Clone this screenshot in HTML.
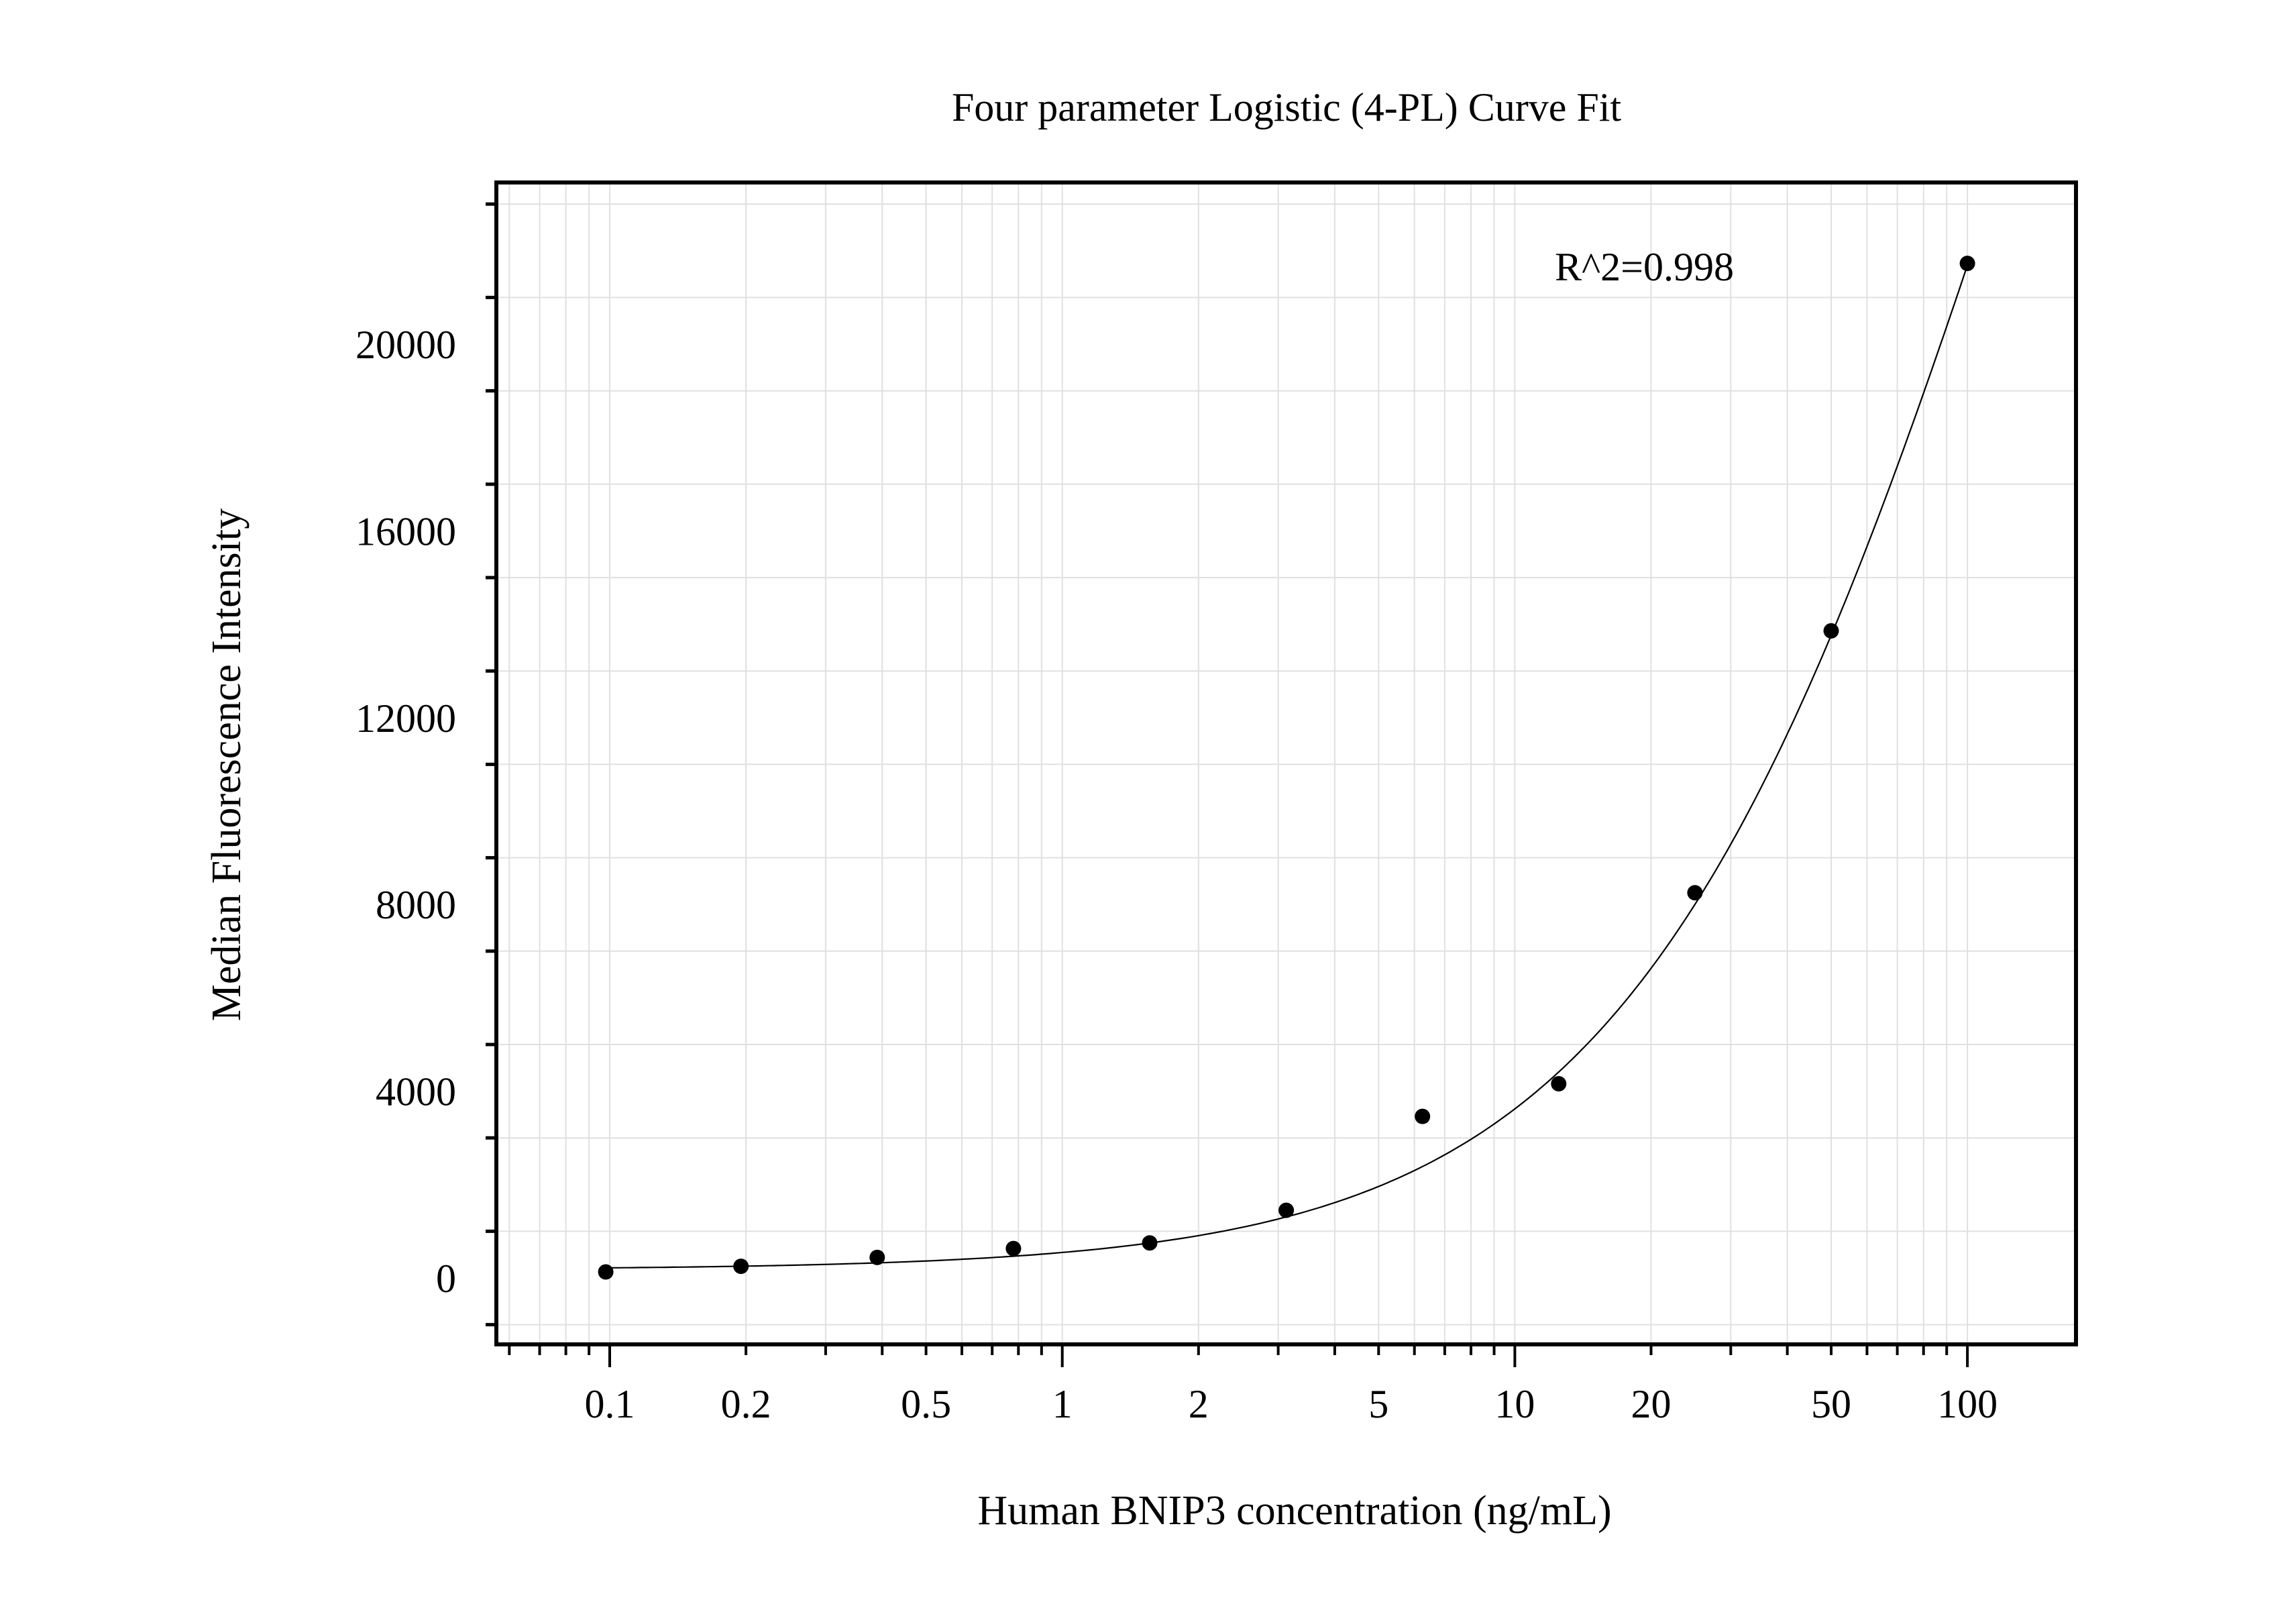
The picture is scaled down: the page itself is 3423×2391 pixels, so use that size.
<!DOCTYPE html>
<html><head><meta charset="utf-8"><style>
html,body{margin:0;padding:0;background:#fff}
svg{display:block;font-family:"Liberation Serif",serif}
</style></head><body>
<svg id="chart" xmlns="http://www.w3.org/2000/svg" width="3423" height="2391" viewBox="0 0 3423 2391">
<rect width="3423" height="2391" fill="#fff"/>
<g id="grid"></g>
<g id="curve"></g>
<g id="pts"></g>
<rect x="740" y="272" width="2355" height="1732" fill="none" stroke="#000" stroke-width="6"/>
<g id="ticks"></g>
<text x="1918" y="180" font-size="60" text-anchor="middle">Four parameter Logistic (4-PL) Curve Fit</text>
<text x="1930" y="2272" font-size="62" text-anchor="middle">Human BNIP3 concentration (ng/mL)</text>
<text transform="translate(358,1140) rotate(-90)" font-size="62" text-anchor="middle">Median Fluorescence Intensity</text>
<text x="2318" y="418" font-size="60">R^2=0.998</text>
</svg>
<script>
const concentrations = [0.098, 0.195, 0.39, 0.78, 1.56, 3.125, 6.25, 12.5, 25, 50, 100];
const intensities = [130, 250, 440, 630, 750, 1450, 3460, 4160, 8250, 13860, 21730];
const xTickLabels = ["0.1", "0.2", "0.5", "1", "2", "5", "10", "20", "50", "100"];
const xTickValues = [0.1, 0.2, 0.5, 1, 2, 5, 10, 20, 50, 100];
const yTickValues = [0, 4000, 8000, 12000, 16000, 20000];
const fitParams = [180, 1.0, 140, 51800]; // A, B, C, D

const NS = "http://www.w3.org/2000/svg";
const L = 740, R = 3095, T = 272, B = 2004;
function xs(v){ return 909 + (Math.log10(v) + 1) * 674.7; }
function ys(v){ return 1905 - v * 0.0696; }
function mk(tag, attrs, parent){ const e = document.createElementNS(NS, tag); for (const k in attrs) e.setAttribute(k, attrs[k]); parent.appendChild(e); return e; }

const grid = document.getElementById('grid'), ticks = document.getElementById('ticks');
// x minor/major positions
const xAll = [];
for (let d = -2; d <= 2; d++) for (let m = 1; m <= 9; m++) { const v = m * Math.pow(10, d); const px = xs(v); if (px > L + 3 && px < R - 3) xAll.push([v, m === 1]); }
xAll.forEach(([v, major]) => {
  const g = mk('line', {x1: xs(v), x2: xs(v), y1: T, y2: B, stroke: '#e0e0e0', 'stroke-width': 2}, grid);
  
  
  const t = mk('line', {x1: xs(v), x2: xs(v), y1: B, y2: B + (major ? 34 : 16), stroke: '#000', 'stroke-width': 4}, ticks);
  
  
});
for (let v = -1000; v <= 23000; v += 2000) {
  if (v < -1400) continue;
  const major = v % 4000 === 0;
  const g = mk('line', {x1: L, x2: R, y1: ys(v), y2: ys(v), stroke: '#e0e0e0', 'stroke-width': 2}, grid);
  
  
  const t = mk('line', {x1: L - (major ? 34 : 16), x2: L, y1: ys(v), y2: ys(v), stroke: '#000', 'stroke-width': 5}, ticks);
  
  
}
xTickValues.forEach((v, i) => {
  const t = mk('text', {x: xs(v), y: 2113, 'font-size': 60, 'text-anchor': 'middle'}, ticks);
  t.textContent = xTickLabels[i];
  
  
});
yTickValues.forEach(v => {
  const t = mk('text', {x: 680, y: ys(v) + 21, 'font-size': 60, 'text-anchor': 'end'}, ticks);
  t.textContent = String(v);
  
  
});
// fit curve
const [A, Bp, C, D] = fitParams;
function f(x){ return D + (A - D) / (1 + Math.pow(x / C, Bp)); }
let d = '';
const lo = Math.log10(concentrations[0]), hi = Math.log10(concentrations[concentrations.length - 1]);
for (let i = 0; i <= 300; i++) { const lx = lo + (hi - lo) * i / 300; const x = Math.pow(10, lx); d += (i ? 'L' : 'M') + xs(x).toFixed(1) + ',' + ys(f(x)).toFixed(1); }
const path = mk('path', {d: d, fill: 'none', stroke: '#000', 'stroke-width': 2.2}, document.getElementById('curve'));


const pts = document.getElementById('pts');
concentrations.forEach((c, i) => {
  const p = mk('circle', {cx: xs(c), cy: ys(intensities[i]), r: 11.5, fill: '#000'}, pts);
  
  
});
</script>
</body></html>
